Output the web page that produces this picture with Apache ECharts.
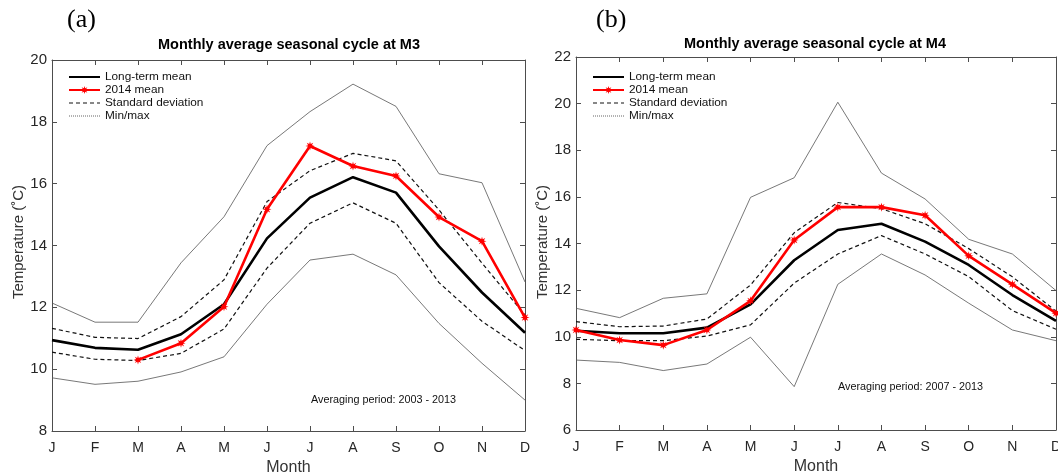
<!DOCTYPE html>
<html><head><meta charset="utf-8">
<script src="https://cdn.jsdelivr.net/npm/echarts@6/dist/echarts.min.js"></script>
<style>html,body{margin:0;padding:0;background:#fff}#c{width:1058px;height:475px}</style>
</head><body><div id="c"></div>
<script>
var months = ['J','F','M','A','M','J','J','A','S','O','N','D'];

// M3 (a)
var m3Mean  = [10.94,10.69,10.63,11.13,12.10,14.23,15.55,16.21,15.71,13.97,12.48,11.18];
var m3Y2014 = [null,null,10.30,10.84,12.02,15.17,17.22,16.57,16.25,14.92,14.14,11.67];
var m3StdUp = [11.32,11.03,10.99,11.70,12.89,15.42,16.42,16.98,16.74,15.15,13.43,11.75];
var m3StdLo = [10.55,10.32,10.28,10.51,11.30,13.27,14.72,15.38,14.72,12.80,11.55,10.60];
var m3Max   = [12.14,11.52,11.52,13.44,14.93,17.23,18.33,19.22,18.50,16.32,16.03,12.82];
var m3Min   = [9.72,9.51,9.61,9.91,10.40,12.10,13.53,13.72,13.05,11.48,10.19,9.00];

// M4 (b)
var m4Mean  = [10.26,10.15,10.15,10.39,11.39,13.28,14.58,14.85,14.08,13.08,11.79,10.68];
var m4Y2014 = [10.29,9.86,9.64,10.29,11.54,14.15,15.56,15.56,15.21,13.47,12.25,11.01];
var m4StdUp = [10.65,10.43,10.46,10.76,12.22,14.46,15.76,15.49,14.85,13.78,12.57,11.10];
var m4StdLo = [9.89,9.83,9.83,10.03,10.51,12.30,13.55,14.34,13.55,12.58,11.12,10.32];
var m4Max   = [11.22,10.82,11.65,11.84,15.98,16.82,20.06,17.02,15.91,14.18,13.55,11.98];
var m4Min   = [9.00,8.90,8.55,8.83,9.98,7.86,12.25,13.55,12.65,11.44,10.29,9.83];

var m3Ticks = {min: 8, max: 20, interval: 2};
var m4Ticks = {min: 6, max: 22, interval: 2};

var names = ['Long-term mean','2014 mean','Standard deviation','Min/max'];

// 8-point star marker path
var star = (function(){
  var pts=[];
  for(var i=0;i<16;i++){var a=Math.PI*i/8;var r=(i%2===0)?1:0.45;pts.push((r*Math.cos(a)).toFixed(3)+','+(r*Math.sin(a)).toFixed(3));}
  return 'path://M'+pts.join('L')+'Z';
})();

var FONT = 'Liberation Sans, Arial, sans-serif';
var axisColor = '#4d4d4d';

function xAxes(gi){
  return [
    {type:'category', gridIndex:gi, data:months, boundaryGap:false, position:'bottom',
     axisLine:{lineStyle:{color:axisColor,width:1}}, axisTick:{inside:true,length:5,lineStyle:{color:axisColor}},
     axisLabel:{color:'#262626',fontSize:14,fontFamily:FONT,margin:10},
     name:'Month', nameLocation:'middle', nameGap:28, nameTextStyle:{color:'#333',fontSize:16,fontFamily:FONT}},
    {type:'category', gridIndex:gi, data:months, boundaryGap:false, position:'top',
     axisLine:{lineStyle:{color:axisColor,width:1}}, axisTick:{inside:true,length:5,lineStyle:{color:axisColor}},
     axisLabel:{show:false}}
  ];
}
function yAxes(gi,t){
  return [
    {type:'value', gridIndex:gi, min:t.min, max:t.max, interval:t.interval, position:'left',
     axisLine:{show:true,lineStyle:{color:axisColor,width:1}}, axisTick:{show:true,inside:true,length:5,lineStyle:{color:axisColor}},
     splitLine:{show:false}, axisLabel:{color:'#262626',fontSize:15,fontFamily:FONT,margin:5}},
    {type:'value', gridIndex:gi, min:t.min, max:t.max, interval:t.interval, position:'right',
     axisLine:{show:true,lineStyle:{color:axisColor,width:1}}, axisTick:{show:true,inside:true,length:5,lineStyle:{color:axisColor}},
     splitLine:{show:false}, axisLabel:{show:false}}
  ];
}

function seriesFor(xi, yi, mean, y14, up, lo, mx, mn){
  var base = {type:'line', xAxisIndex:xi, yAxisIndex:yi, symbol:'none', animation:false};
  return [
    Object.assign({}, base, {name:'Min/max', data:mx, lineStyle:{color:'#555',width:0.8}, itemStyle:{color:'#555'}, z:1}),
    Object.assign({}, base, {name:'Min/max', data:mn, lineStyle:{color:'#555',width:0.8}, itemStyle:{color:'#555'}, z:1}),
    Object.assign({}, base, {name:'Standard deviation', data:up, lineStyle:{color:'#111',width:1.2,type:[4,3]}, itemStyle:{color:'#111'}, z:2}),
    Object.assign({}, base, {name:'Standard deviation', data:lo, lineStyle:{color:'#111',width:1.2,type:[4,3]}, itemStyle:{color:'#111'}, z:2}),
    Object.assign({}, base, {name:'Long-term mean', data:mean, lineStyle:{color:'#000',width:2.6}, itemStyle:{color:'#000'}, z:3}),
    Object.assign({}, base, {name:'2014 mean', data:y14, symbol:star, symbolSize:9, showSymbol:true,
      lineStyle:{color:'#f00',width:2.6}, itemStyle:{color:'#f00'}, z:4})
  ];
}

function legend(left){
  return {orient:'vertical', left:left, top:71, padding:0, itemWidth:31, itemHeight:10, itemGap:1,
    data:[
      {name:'Long-term mean', itemStyle:{opacity:0}},
      {name:'2014 mean'},
      {name:'Standard deviation', itemStyle:{opacity:0}, lineStyle:{width:1.2,type:[4,3]}},
      {name:'Min/max', itemStyle:{opacity:0}, lineStyle:{width:1,type:[1,1],color:'#666'}}
    ],
    selectedMode:false,
    textStyle:{color:'#111',fontSize:11.8,fontFamily:FONT,lineHeight:12}};
}

var chart = echarts.init(document.getElementById('c'), null, {renderer:'canvas'});
chart.setOption({
  backgroundColor:'#fff',
  animation:false,
  grid:[
    {left:52, top:60, width:473, height:371, outerBoundsMode:'none', containLabel:false},
    {left:576, top:57, width:480, height:373, outerBoundsMode:'none', containLabel:false}
  ],
  xAxis: xAxes(0).concat(xAxes(1)),
  yAxis: yAxes(0,m3Ticks).concat(yAxes(1,m4Ticks)),
  legend:[legend(68), legend(592)],
  series: seriesFor(0,0,m3Mean,m3Y2014,m3StdUp,m3StdLo,m3Max,m3Min)
    .concat(seriesFor(2,2,m4Mean,m4Y2014,m4StdUp,m4StdLo,m4Max,m4Min)),
  graphic:[
    {type:'text', left:67, top:7, style:{text:'(a)', font:'26px "Liberation Serif", "Times New Roman", serif', fill:'#000'}},
    {type:'text', left:596, top:7, style:{text:'(b)', font:'26px "Liberation Serif", "Times New Roman", serif', fill:'#000'}},
    {type:'text', x:289, y:45, style:{text:'Monthly average seasonal cycle at M3', font:'bold 14.5px "Liberation Sans", Arial, sans-serif', fill:'#000', align:'center', verticalAlign:'middle'}},
    {type:'text', x:815, y:44, style:{text:'Monthly average seasonal cycle at M4', font:'bold 14.5px "Liberation Sans", Arial, sans-serif', fill:'#000', align:'center', verticalAlign:'middle'}},
    {type:'text', x:19, y:242, rotation:Math.PI/2, style:{text:'Temperature (\u02DAC)', font:'15px "Liberation Sans", Arial, sans-serif', fill:'#333', align:'center', verticalAlign:'middle'}},
    {type:'text', x:543, y:242, rotation:Math.PI/2, style:{text:'Temperature (\u02DAC)', font:'15px "Liberation Sans", Arial, sans-serif', fill:'#333', align:'center', verticalAlign:'middle'}},
    {type:'text', x:311, y:400, style:{text:'Averaging period: 2003 - 2013', font:'10.8px "Liberation Sans", Arial, sans-serif', fill:'#111', verticalAlign:'middle'}},
    {type:'text', x:838, y:387, style:{text:'Averaging period: 2007 - 2013', font:'10.8px "Liberation Sans", Arial, sans-serif', fill:'#111', verticalAlign:'middle'}}
  ]
});
</script></body></html>
